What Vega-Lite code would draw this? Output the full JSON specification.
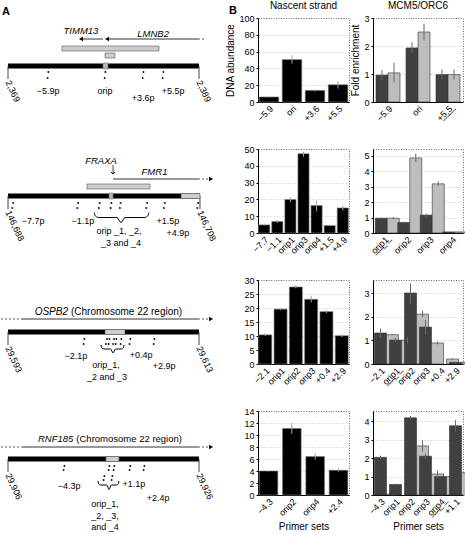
{
  "$schema": "https://vega.github.io/schema/vega-lite/v6.json",
  "padding": {"left": 0, "top": 0, "right": 0, "bottom": 0},
  "columns": 3,
  "spacing": {"row": 47, "column": 24},
  "bounds": "flush",
  "align": "each",
  "datasets": {
    "d1": [
      {"kind": "bar", "x": 0, "x2": 20, "y": 0},
      {"kind": "tick", "x": 0, "y": 0, "y2": -13},
      {"kind": "tick", "x": 20, "y": 0, "y2": -13},
      {"kind": "line", "x": 7.64, "x2": 9.95, "y": 27},
      {"kind": "line", "x": 10.37, "x2": 19.9, "y": 27},
      {"kind": "dash", "x": 19.9, "x2": 20.73, "y": 27},
      {"kind": "head", "x": 7.64, "y": 27, "dir": "left"},
      {"kind": "head", "x": 10.37, "y": 27, "dir": "left"},
      {"kind": "gene", "x": 7.64, "y": 35, "text": "TIMM13"},
      {"kind": "gene", "x": 15.2, "y": 32, "text": "LMNB2"},
      {"kind": "box", "x": 5.65, "x2": 15.81, "y": 20, "y2": 15},
      {"kind": "box", "x": 10.16, "x2": 11.2, "y": 13, "y2": 8},
      {"kind": "square", "x": 9.95, "x2": 10.47, "y": 3, "y2": -3},
      {"kind": "primer", "x": 4.19, "y": -6, "dir": "left"},
      {"kind": "primer", "x": 4.19, "y": -12, "dir": "right"},
      {"kind": "primer", "x": 10.16, "y": -6, "dir": "left"},
      {"kind": "primer", "x": 10.16, "y": -12, "dir": "right"},
      {"kind": "primer", "x": 14.14, "y": -6, "dir": "left"},
      {"kind": "primer", "x": 14.14, "y": -12, "dir": "right"},
      {"kind": "primer", "x": 16.23, "y": -6, "dir": "left"},
      {"kind": "primer", "x": 16.23, "y": -12, "dir": "right"},
      {"kind": "label", "x": 4.19, "y": -25, "text": "−5.9p"},
      {"kind": "label", "x": 10.16, "y": -25, "text": "orip"},
      {"kind": "label", "x": 14.14, "y": -32, "text": "+3.6p"},
      {"kind": "label", "x": 17.28, "y": -25, "text": "+5.5p"},
      {"kind": "end", "x": 0, "y": -15, "text": "2,369"},
      {"kind": "end", "x": 20, "y": -15, "text": "2,389"},
      {"kind": "panel", "x": -0.63, "y": 60, "text": "A"},
      {"kind": "panel", "x": 23.14, "y": 61, "text": "B"}
    ],
    "d2": [
      {"kind": "bar", "x": 0, "x2": 20.1, "y": 0},
      {"kind": "tick", "x": 0, "y": 0, "y2": -13},
      {"kind": "tick", "x": 20.1, "y": 0, "y2": -13},
      {"kind": "box", "x": 8.27, "x2": 14.87, "y": 12, "y2": 7},
      {"kind": "box", "x": 18.12, "x2": 20.1, "y": 2.5, "y2": -2.5},
      {"kind": "square", "x": 10.58, "x2": 11.0, "y": 3, "y2": -3},
      {"kind": "gene", "x": 9.74, "y": 35, "text": "FRAXA"},
      {"kind": "tick", "x": 11.0, "y": 31, "y2": 22},
      {"kind": "vhead", "x": 11.0, "y": 22},
      {"kind": "line", "x": 11.0, "x2": 19.9, "y": 17},
      {"kind": "dash", "x": 19.9, "x2": 21.05, "y": 17},
      {"kind": "head", "x": 21.26, "y": 17, "dir": "right"},
      {"kind": "gene", "x": 15.34, "y": 24, "text": "FMR1"},
      {"kind": "primer", "x": 0.49, "y": -7, "dir": "left"},
      {"kind": "primer", "x": 0.49, "y": -12, "dir": "right"},
      {"kind": "primer", "x": 7.3, "y": -7, "dir": "left"},
      {"kind": "primer", "x": 7.3, "y": -12, "dir": "right"},
      {"kind": "primer", "x": 9.56, "y": -7, "dir": "left"},
      {"kind": "primer", "x": 9.56, "y": -12, "dir": "right"},
      {"kind": "primer", "x": 10.79, "y": -7, "dir": "left"},
      {"kind": "primer", "x": 10.79, "y": -12, "dir": "right"},
      {"kind": "primer", "x": 11.76, "y": -7, "dir": "left"},
      {"kind": "primer", "x": 11.76, "y": -12, "dir": "right"},
      {"kind": "primer", "x": 14.52, "y": -7, "dir": "left"},
      {"kind": "primer", "x": 14.52, "y": -12, "dir": "right"},
      {"kind": "primer", "x": 16.37, "y": -7, "dir": "left"},
      {"kind": "primer", "x": 16.37, "y": -12, "dir": "right"},
      {"kind": "primer", "x": 19.86, "y": -7, "dir": "left"},
      {"kind": "primer", "x": 19.86, "y": -12, "dir": "right"},
      {"kind": "label", "x": 2.62, "y": -25, "text": "−7.7p"},
      {"kind": "label", "x": 7.85, "y": -25, "text": "−1.1p"},
      {"kind": "label", "x": 16.75, "y": -25, "text": "+1.5p"},
      {"kind": "label", "x": 17.8, "y": -37, "text": "+4.9p"},
      {"kind": "label", "x": 11.62, "y": -35, "text": "orip _1, _2,"},
      {"kind": "label", "x": 11.83, "y": -47, "text": "_3 and _4"},
      {"kind": "brace", "x": 9.01, "y": -16.5},
      {"kind": "brace", "x": 9.15, "y": -20},
      {"kind": "brace", "x": 9.5, "y": -21.5},
      {"kind": "brace", "x": 11.4, "y": -21.5},
      {"kind": "brace", "x": 11.83, "y": -26.5},
      {"kind": "brace", "x": 12.26, "y": -21.5},
      {"kind": "brace", "x": 14.27, "y": -21.5},
      {"kind": "brace", "x": 14.62, "y": -20},
      {"kind": "brace", "x": 14.76, "y": -16.5},
      {"kind": "end", "x": 0, "y": -15, "text": "146,688"},
      {"kind": "end", "x": 20.1, "y": -15, "text": "146,708"}
    ],
    "d3": [
      {"kind": "dash", "x": -0.73, "x2": 1.36, "y": 13},
      {"kind": "line", "x": 1.36, "x2": 19.9, "y": 13},
      {"kind": "dash", "x": 19.9, "x2": 21.05, "y": 13},
      {"kind": "head", "x": 21.26, "y": 13, "dir": "right"},
      {"kind": "geneR", "x": 6.44, "y": 20, "text": "OSPB2"},
      {"kind": "note", "x": 6.44, "y": 20, "text": "(Chromosome 22 region)"},
      {"kind": "bar", "x": 0, "x2": 20, "y": 0},
      {"kind": "tick", "x": 0, "y": 0, "y2": -13},
      {"kind": "tick", "x": 20, "y": 0, "y2": -13},
      {"kind": "box", "x": 10.16, "x2": 12.25, "y": 2.5, "y2": -2.5},
      {"kind": "primer", "x": 7.96, "y": -7, "dir": "left"},
      {"kind": "primer", "x": 7.96, "y": -12, "dir": "right"},
      {"kind": "primer", "x": 10.31, "y": -7, "dir": "left"},
      {"kind": "primer", "x": 10.31, "y": -12, "dir": "right"},
      {"kind": "primer", "x": 10.58, "y": -7, "dir": "left"},
      {"kind": "primer", "x": 10.58, "y": -12, "dir": "right"},
      {"kind": "primer", "x": 11.05, "y": -7, "dir": "left"},
      {"kind": "primer", "x": 11.05, "y": -12, "dir": "right"},
      {"kind": "primer", "x": 11.31, "y": -7, "dir": "left"},
      {"kind": "primer", "x": 11.31, "y": -12, "dir": "right"},
      {"kind": "primer", "x": 11.83, "y": -7, "dir": "left"},
      {"kind": "primer", "x": 11.83, "y": -12, "dir": "right"},
      {"kind": "primer", "x": 12.77, "y": -7, "dir": "left"},
      {"kind": "primer", "x": 12.77, "y": -12, "dir": "right"},
      {"kind": "primer", "x": 15.29, "y": -7, "dir": "left"},
      {"kind": "primer", "x": 15.29, "y": -12, "dir": "right"},
      {"kind": "label", "x": 7.12, "y": -24, "text": "−2.1p"},
      {"kind": "label", "x": 13.93, "y": -23, "text": "+0.4p"},
      {"kind": "label", "x": 10.26, "y": -33, "text": "orip_1,"},
      {"kind": "label", "x": 10.37, "y": -45, "text": "_2 and _3"},
      {"kind": "label", "x": 16.34, "y": -34, "text": "+2.9p"},
      {"kind": "brace", "x": 9.74, "y": -13},
      {"kind": "brace", "x": 9.82, "y": -16},
      {"kind": "brace", "x": 10.05, "y": -17},
      {"kind": "brace", "x": 10.75, "y": -17},
      {"kind": "brace", "x": 11.0, "y": -21},
      {"kind": "brace", "x": 11.25, "y": -17},
      {"kind": "brace", "x": 11.9, "y": -17},
      {"kind": "brace", "x": 12.07, "y": -16},
      {"kind": "brace", "x": 12.15, "y": -13},
      {"kind": "end", "x": 0, "y": -15, "text": "29,593"},
      {"kind": "end", "x": 20, "y": -15, "text": "29,613"}
    ],
    "d4": [
      {"kind": "dash", "x": -0.73, "x2": 1.57, "y": 12},
      {"kind": "line", "x": 1.57, "x2": 19.9, "y": 12},
      {"kind": "dash", "x": 19.9, "x2": 21.05, "y": 12},
      {"kind": "head", "x": 21.26, "y": 12, "dir": "right"},
      {"kind": "geneR", "x": 7.0, "y": 20, "text": "RNF185"},
      {"kind": "note", "x": 7.0, "y": 20, "text": "(Chromosome 22 region)"},
      {"kind": "bar", "x": 0, "x2": 20, "y": 0},
      {"kind": "tick", "x": 0, "y": 0, "y2": -13},
      {"kind": "tick", "x": 20, "y": 0, "y2": -13},
      {"kind": "box", "x": 10.26, "x2": 11.62, "y": 2.5, "y2": -2.5},
      {"kind": "primer", "x": 5.86, "y": -7, "dir": "left"},
      {"kind": "primer", "x": 5.86, "y": -11, "dir": "right"},
      {"kind": "primer", "x": 10.58, "y": -7, "dir": "left"},
      {"kind": "primer", "x": 10.58, "y": -11, "dir": "right"},
      {"kind": "primer", "x": 11.1, "y": -7, "dir": "left"},
      {"kind": "primer", "x": 11.1, "y": -11, "dir": "right"},
      {"kind": "primer", "x": 12.77, "y": -7, "dir": "left"},
      {"kind": "primer", "x": 12.77, "y": -11, "dir": "right"},
      {"kind": "primer", "x": 14.24, "y": -7, "dir": "left"},
      {"kind": "primer", "x": 14.24, "y": -11, "dir": "right"},
      {"kind": "primer", "x": 10.05, "y": -17, "dir": "left"},
      {"kind": "primer", "x": 10.05, "y": -21, "dir": "right"},
      {"kind": "primer", "x": 10.89, "y": -17, "dir": "left"},
      {"kind": "primer", "x": 10.89, "y": -21, "dir": "right"},
      {"kind": "label", "x": 6.4, "y": -27, "text": "−4.3p"},
      {"kind": "label", "x": 13.19, "y": -25, "text": "+1.1p"},
      {"kind": "label", "x": 15.71, "y": -39, "text": "+2.4p"},
      {"kind": "label", "x": 10.16, "y": -45, "text": "orip_1,"},
      {"kind": "label", "x": 10.16, "y": -57, "text": "_2, _3,"},
      {"kind": "label", "x": 10.16, "y": -68, "text": "and _4"},
      {"kind": "brace", "x": 9.42, "y": -22},
      {"kind": "brace", "x": 9.5, "y": -25},
      {"kind": "brace", "x": 9.68, "y": -26},
      {"kind": "brace", "x": 10.35, "y": -26},
      {"kind": "brace", "x": 10.58, "y": -30.5},
      {"kind": "brace", "x": 10.81, "y": -26},
      {"kind": "brace", "x": 11.36, "y": -26},
      {"kind": "brace", "x": 11.54, "y": -25},
      {"kind": "brace", "x": 11.62, "y": -22},
      {"kind": "end", "x": 0, "y": -15, "text": "29,906"},
      {"kind": "end", "x": 20, "y": -15, "text": "29,926"}
    ],
    "n1": [
      {"primer": "−5.9", "value": 6, "lo": 5.3, "hi": 6.8},
      {"primer": "ori", "value": 50.5, "lo": 45.5, "hi": 55.5},
      {"primer": "+3.6", "value": 13.8, "lo": 12.6, "hi": 15},
      {"primer": "+5.5", "value": 20.5, "lo": 16, "hi": 24.5}
    ],
    "n2": [
      {"primer": "−7.7", "value": 4.8, "lo": 4.4, "hi": 5.6},
      {"primer": "−1.1", "value": 6.8, "lo": 6, "hi": 7.6},
      {"primer": "orip1", "value": 19.9, "lo": 18.3, "hi": 21.3},
      {"primer": "orip3", "value": 47.2, "lo": 45.4, "hi": 48.4},
      {"primer": "orip4", "value": 16.3, "lo": 12.9, "hi": 19.3},
      {"primer": "+1.5", "value": 4.4, "lo": 4, "hi": 5},
      {"primer": "+4.9", "value": 14.9, "lo": 13.3, "hi": 16.3}
    ],
    "n3": [
      {"primer": "−2.1", "value": 10.4, "lo": 10, "hi": 10.9},
      {"primer": "orip1", "value": 19.6, "lo": 19.2, "hi": 20},
      {"primer": "orip2", "value": 27.5, "lo": 27, "hi": 28.2},
      {"primer": "orip3", "value": 23.1, "lo": 22, "hi": 24.4},
      {"primer": "+0.4", "value": 18.7, "lo": 18.2, "hi": 19.3},
      {"primer": "+2.9", "value": 10.1, "lo": 9.6, "hi": 10.6}
    ],
    "n4": [
      {"primer": "−4.3", "value": 4, "lo": 3.9, "hi": 4.1},
      {"primer": "orip2", "value": 11.1, "lo": 10.2, "hi": 12},
      {"primer": "orip4", "value": 6.4, "lo": 5.9, "hi": 6.9},
      {"primer": "+2.4", "value": 4.13, "lo": 3.9, "hi": 4.4}
    ],
    "m1": [
      {"primer": "−5.9", "series": "MCM5", "value": 0.96, "lo": 0.78, "hi": 1.14},
      {"primer": "−5.9", "series": "ORC6", "value": 1.04, "lo": 0.7, "hi": 1.4},
      {"primer": "ori", "series": "MCM5", "value": 1.93, "lo": 1.74, "hi": 2.13},
      {"primer": "ori", "series": "ORC6", "value": 2.5, "lo": 2.2, "hi": 2.8},
      {"primer": "+5.5", "series": "MCM5", "value": 0.98, "lo": 0.8, "hi": 1.16},
      {"primer": "+5.5", "series": "ORC6", "value": 0.98, "lo": 0.8, "hi": 1.16}
    ],
    "m2": [
      {"primer": "orip1", "series": "MCM5", "value": 0.96, "lo": 0.92, "hi": 1.0},
      {"primer": "orip1", "series": "ORC6", "value": 0.96, "lo": 0.9, "hi": 1.03},
      {"primer": "orip2", "series": "MCM5", "value": 0.68, "lo": 0.62, "hi": 0.74},
      {"primer": "orip2", "series": "ORC6", "value": 4.87, "lo": 4.6, "hi": 5.15},
      {"primer": "orip3", "series": "MCM5", "value": 1.16, "lo": 1.05, "hi": 1.25},
      {"primer": "orip3", "series": "ORC6", "value": 3.19, "lo": 3.05, "hi": 3.35},
      {"primer": "orip4", "series": "MCM5", "value": 0.07, "lo": 0.06, "hi": 0.08},
      {"primer": "orip4", "series": "ORC6", "value": 0.07, "lo": 0.06, "hi": 0.08}
    ],
    "m3": [
      {"primer": "−2.1", "series": "MCM5", "value": 1.31, "lo": 1.12, "hi": 1.5},
      {"primer": "−2.1", "series": "ORC6", "value": 1.24, "lo": 1.22, "hi": 1.26},
      {"primer": "orip1", "series": "MCM5", "value": 1.01, "lo": 0.93, "hi": 1.1},
      {"primer": "orip1", "series": "ORC6", "value": 1.01, "lo": 0.88, "hi": 1.12},
      {"primer": "orip2", "series": "MCM5", "value": 3.0, "lo": 2.55, "hi": 3.4},
      {"primer": "orip2", "series": "ORC6", "value": 2.11, "lo": 1.97, "hi": 2.25},
      {"primer": "orip3", "series": "MCM5", "value": 1.56, "lo": 1.25, "hi": 1.86},
      {"primer": "orip3", "series": "ORC6", "value": 0.89, "lo": 0.83, "hi": 0.95},
      {"primer": "+0.4", "series": "ORC6", "value": 0.21, "lo": 0.18, "hi": 0.24},
      {"primer": "+2.9", "series": "MCM5", "value": 0.07, "lo": 0.06, "hi": 0.08},
      {"primer": "+2.9", "series": "ORC6", "value": 0.07, "lo": 0.06, "hi": 0.08}
    ],
    "m4": [
      {"primer": "−4.3", "series": "MCM5", "value": 2.04, "lo": 1.95, "hi": 2.13},
      {"primer": "−4.3", "series": "ORC6", "value": 0.05, "lo": 0.04, "hi": 0.06},
      {"primer": "orip1", "series": "MCM5", "value": 0.57, "lo": 0.53, "hi": 0.62},
      {"primer": "orip2", "series": "MCM5", "value": 4.18, "lo": 4.1, "hi": 4.27},
      {"primer": "orip2", "series": "ORC6", "value": 2.66, "lo": 2.35, "hi": 2.98},
      {"primer": "orip3", "series": "MCM5", "value": 2.1, "lo": 1.95, "hi": 2.25},
      {"primer": "orip3", "series": "ORC6", "value": 1.14, "lo": 0.95, "hi": 1.33},
      {"primer": "orip4", "series": "MCM5", "value": 1.0, "lo": 0.97, "hi": 1.03},
      {"primer": "orip4", "series": "ORC6", "value": 1.0, "lo": 0.98, "hi": 1.02},
      {"primer": "+1.1", "series": "MCM5", "value": 3.75, "lo": 3.45, "hi": 4.05},
      {"primer": "+1.1", "series": "ORC6", "value": 1.21, "lo": 1.0, "hi": 1.42}
    ]
  },
  "concat": [
    {
      "width": 233, "height": 84, "view": {"stroke": null},
      "data": {"name": "d1"},
      "encoding": {
        "x": {"field": "x", "type": "quantitative", "scale": {"domain": [-0.733, 23.665], "nice": false, "zero": false}, "axis": null},
        "y": {"field": "y", "type": "quantitative", "scale": {"domain": [-36, 48], "nice": false, "zero": false}, "axis": null}
      },
      "layer": [
        {"transform": [{"filter": {"field": "kind", "equal": "bar"}}], "mark": {"type": "rule", "color": "#000", "strokeWidth": 5}, "encoding": {"x2": {"field": "x2"}}},
        {"transform": [{"filter": {"field": "kind", "equal": "line"}}], "mark": {"type": "rule", "color": "#333", "strokeWidth": 1}, "encoding": {"x2": {"field": "x2"}}},
        {"transform": [{"filter": {"field": "kind", "equal": "dash"}}], "mark": {"type": "rule", "color": "#555", "strokeWidth": 1, "strokeDash": [2, 2]}, "encoding": {"x2": {"field": "x2"}}},
        {"transform": [{"filter": {"field": "kind", "equal": "tick"}}], "mark": {"type": "rule", "color": "#444", "strokeWidth": 1}, "encoding": {"y2": {"field": "y2"}}},
        {"transform": [{"filter": {"field": "kind", "equal": "box"}}], "mark": {"type": "rect", "fill": "#cdcdcd", "stroke": "#555", "strokeWidth": 0.6}, "encoding": {"x2": {"field": "x2"}, "y2": {"field": "y2"}}},
        {"transform": [{"filter": {"field": "kind", "equal": "square"}}], "mark": {"type": "rect", "fill": "#b5b5b5", "stroke": "#777", "strokeWidth": 0.6}, "encoding": {"x2": {"field": "x2"}, "y2": {"field": "y2"}}},
        {"transform": [{"filter": {"field": "kind", "equal": "head"}}], "mark": {"type": "point", "filled": true, "color": "#000", "size": 22, "opacity": 1}, "encoding": {"shape": {"field": "dir", "type": "nominal", "scale": {"domain": ["left", "right"], "range": ["triangle-left", "triangle-right"]}, "legend": null}}},
        {"transform": [{"filter": {"field": "kind", "equal": "primer"}}], "mark": {"type": "point", "filled": true, "color": "#000", "size": 7, "opacity": 1}, "encoding": {"shape": {"field": "dir", "type": "nominal", "scale": {"domain": ["left", "right"], "range": ["triangle-left", "triangle-right"]}, "legend": null}}},
        {"transform": [{"filter": {"field": "kind", "equal": "label"}}], "mark": {"type": "text", "fontSize": 9, "align": "center", "baseline": "middle"}, "encoding": {"text": {"field": "text"}}},
        {"transform": [{"filter": {"field": "kind", "equal": "gene"}}], "mark": {"type": "text", "fontSize": 9.5, "fontStyle": "italic", "align": "center", "baseline": "middle"}, "encoding": {"text": {"field": "text"}}},
        {"transform": [{"filter": {"field": "kind", "equal": "end"}}], "mark": {"type": "text", "fontSize": 9, "align": "left", "baseline": "middle", "angle": 65}, "encoding": {"text": {"field": "text"}}},
        {"transform": [{"filter": {"field": "kind", "equal": "panel"}}], "mark": {"type": "text", "fontSize": 11, "fontWeight": "bold", "align": "left", "baseline": "top"}, "encoding": {"text": {"field": "text"}}}
      ]
    },
    {
      "width": 91, "height": 84,
      "data": {"name": "n1"},
      "title": "Nascent strand",
      "encoding": {"x": {"field": "primer", "type": "nominal", "sort": null, "scale": {"paddingInner": 0.15, "paddingOuter": 0.05}, "axis": {"title": null}}},
      "layer": [
        {"mark": {"type": "bar", "color": "#000", "stroke": "#808080", "strokeWidth": 0.6}, "encoding": {"y": {"field": "value", "type": "quantitative", "scale": {"domain": [0, 100], "nice": false}, "axis": {"values": [0, 20, 40, 60, 80, 100], "title": "DNA abundance", "labelOverlap": false, "labelFlush": false}}}},
        {"mark": {"type": "rule", "color": "#a0a0a0", "strokeWidth": 1}, "encoding": {"y": {"field": "lo", "type": "quantitative", "scale": {"domain": [0, 100], "nice": false}, "axis": {"values": [0, 20, 40, 60, 80, 100], "title": "DNA abundance", "labelOverlap": false, "labelFlush": false}}, "y2": {"field": "hi"}}}
      ]
    },
    {
      "width": 90, "height": 84,
      "data": {"name": "m1"},
      "title": "MCM5/ORC6",
      "encoding": {
        "x": {"field": "primer", "type": "nominal", "sort": null, "scale": {"paddingInner": 0.2, "paddingOuter": 0.1}, "axis": {"title": null, "labelExpr": "datum.value == '+5.5' ? '+\u03325\u0332.\u03325\u0332' : datum.value"}},
        "xOffset": {"field": "series", "type": "nominal", "scale": {"domain": ["MCM5", "ORC6"]}}
      },
      "layer": [
        {"mark": {"type": "bar", "stroke": "#333", "strokeWidth": 0.6}, "encoding": {"y": {"field": "value", "type": "quantitative", "scale": {"domain": [0, 3], "nice": false}, "axis": {"values": [0, 1, 2, 3], "title": "Fold enrichment", "labelOverlap": false, "labelFlush": false}}, "color": {"field": "series", "type": "nominal", "scale": {"domain": ["MCM5", "ORC6"], "range": ["#404040", "#bdbdbd"]}, "legend": null}}},
        {"mark": {"type": "rule", "color": "#6a6a6a", "strokeWidth": 1}, "encoding": {"y": {"field": "lo", "type": "quantitative", "scale": {"domain": [0, 3], "nice": false}, "axis": {"values": [0, 1, 2, 3], "title": "Fold enrichment", "labelOverlap": false, "labelFlush": false}}, "y2": {"field": "hi"}}}
      ]
    },
    {
      "width": 233, "height": 84, "view": {"stroke": null},
      "data": {"name": "d2"},
      "encoding": {
        "x": {"field": "x", "type": "quantitative", "scale": {"domain": [-0.733, 23.665], "nice": false, "zero": false}, "axis": null},
        "y": {"field": "y", "type": "quantitative", "scale": {"domain": [-37, 47], "nice": false, "zero": false}, "axis": null}
      },
      "layer": [
        {"transform": [{"filter": {"field": "kind", "equal": "bar"}}], "mark": {"type": "rule", "color": "#000", "strokeWidth": 5}, "encoding": {"x2": {"field": "x2"}}},
        {"transform": [{"filter": {"field": "kind", "equal": "line"}}], "mark": {"type": "rule", "color": "#333", "strokeWidth": 1}, "encoding": {"x2": {"field": "x2"}}},
        {"transform": [{"filter": {"field": "kind", "equal": "dash"}}], "mark": {"type": "rule", "color": "#555", "strokeWidth": 1, "strokeDash": [2, 2]}, "encoding": {"x2": {"field": "x2"}}},
        {"transform": [{"filter": {"field": "kind", "equal": "tick"}}], "mark": {"type": "rule", "color": "#444", "strokeWidth": 1}, "encoding": {"y2": {"field": "y2"}}},
        {"transform": [{"filter": {"field": "kind", "equal": "box"}}], "mark": {"type": "rect", "fill": "#cdcdcd", "stroke": "#555", "strokeWidth": 0.6}, "encoding": {"x2": {"field": "x2"}, "y2": {"field": "y2"}}},
        {"transform": [{"filter": {"field": "kind", "equal": "square"}}], "mark": {"type": "rect", "fill": "#b5b5b5", "stroke": "#777", "strokeWidth": 0.6}, "encoding": {"x2": {"field": "x2"}, "y2": {"field": "y2"}}},
        {"transform": [{"filter": {"field": "kind", "equal": "head"}}], "mark": {"type": "point", "filled": true, "color": "#000", "size": 22, "opacity": 1}, "encoding": {"shape": {"field": "dir", "type": "nominal", "scale": {"domain": ["left", "right"], "range": ["triangle-left", "triangle-right"]}, "legend": null}}},
        {"transform": [{"filter": {"field": "kind", "equal": "primer"}}], "mark": {"type": "point", "filled": true, "color": "#000", "size": 7, "opacity": 1}, "encoding": {"shape": {"field": "dir", "type": "nominal", "scale": {"domain": ["left", "right"], "range": ["triangle-left", "triangle-right"]}, "legend": null}}},
        {"transform": [{"filter": {"field": "kind", "equal": "vhead"}}], "mark": {"type": "point", "filled": false, "shape": "M-1,-1L0,0L1,-1", "color": "#000", "size": 16, "strokeWidth": 1, "opacity": 1}, "encoding": {}},
        {"transform": [{"filter": {"field": "kind", "equal": "brace"}}], "mark": {"type": "line", "color": "#000", "strokeWidth": 1, "interpolate": "monotone"}, "encoding": {}},
        {"transform": [{"filter": {"field": "kind", "equal": "label"}}], "mark": {"type": "text", "fontSize": 9, "align": "center", "baseline": "middle"}, "encoding": {"text": {"field": "text"}}},
        {"transform": [{"filter": {"field": "kind", "equal": "gene"}}], "mark": {"type": "text", "fontSize": 9.5, "fontStyle": "italic", "align": "center", "baseline": "middle"}, "encoding": {"text": {"field": "text"}}},
        {"transform": [{"filter": {"field": "kind", "equal": "end"}}], "mark": {"type": "text", "fontSize": 9, "align": "left", "baseline": "middle", "angle": 65}, "encoding": {"text": {"field": "text"}}}
      ]
    },
    {
      "width": 91, "height": 84,
      "data": {"name": "n2"},
      "encoding": {"x": {"field": "primer", "type": "nominal", "sort": null, "scale": {"paddingInner": 0.15, "paddingOuter": 0.05}, "axis": {"title": null}}},
      "layer": [
        {"mark": {"type": "bar", "color": "#000", "stroke": "#808080", "strokeWidth": 0.6}, "encoding": {"y": {"field": "value", "type": "quantitative", "scale": {"domain": [0, 50], "nice": false}, "axis": {"values": [0, 10, 20, 30, 40, 50], "title": null, "labelOverlap": false, "labelFlush": false}}}},
        {"mark": {"type": "rule", "color": "#a0a0a0", "strokeWidth": 1}, "encoding": {"y": {"field": "lo", "type": "quantitative", "scale": {"domain": [0, 50], "nice": false}, "axis": {"values": [0, 10, 20, 30, 40, 50], "title": null, "labelOverlap": false, "labelFlush": false}}, "y2": {"field": "hi"}}}
      ]
    },
    {
      "width": 90, "height": 84,
      "data": {"name": "m2"},
      "encoding": {
        "x": {"field": "primer", "type": "nominal", "sort": null, "scale": {"paddingInner": 0.2, "paddingOuter": 0.1}, "axis": {"title": null, "labelExpr": "datum.value == 'orip1' ? 'o\u0332r\u0332i\u0332p\u03321\u0332' : datum.value"}},
        "xOffset": {"field": "series", "type": "nominal", "scale": {"domain": ["MCM5", "ORC6"]}}
      },
      "layer": [
        {"mark": {"type": "bar", "stroke": "#333", "strokeWidth": 0.6}, "encoding": {"y": {"field": "value", "type": "quantitative", "scale": {"domain": [0, 5.45], "nice": false}, "axis": {"values": [0, 1, 2, 3, 4, 5], "title": null, "labelOverlap": false, "labelFlush": false}}, "color": {"field": "series", "type": "nominal", "scale": {"domain": ["MCM5", "ORC6"], "range": ["#404040", "#bdbdbd"]}, "legend": null}}},
        {"mark": {"type": "rule", "color": "#6a6a6a", "strokeWidth": 1}, "encoding": {"y": {"field": "lo", "type": "quantitative", "scale": {"domain": [0, 5.45], "nice": false}, "axis": {"values": [0, 1, 2, 3, 4, 5], "title": null, "labelOverlap": false, "labelFlush": false}}, "y2": {"field": "hi"}}}
      ]
    },
    {
      "width": 233, "height": 84, "view": {"stroke": null},
      "data": {"name": "d3"},
      "encoding": {
        "x": {"field": "x", "type": "quantitative", "scale": {"domain": [-0.733, 23.665], "nice": false, "zero": false}, "axis": null},
        "y": {"field": "y", "type": "quantitative", "scale": {"domain": [-32, 52], "nice": false, "zero": false}, "axis": null}
      },
      "layer": [
        {"transform": [{"filter": {"field": "kind", "equal": "bar"}}], "mark": {"type": "rule", "color": "#000", "strokeWidth": 5}, "encoding": {"x2": {"field": "x2"}}},
        {"transform": [{"filter": {"field": "kind", "equal": "line"}}], "mark": {"type": "rule", "color": "#333", "strokeWidth": 1}, "encoding": {"x2": {"field": "x2"}}},
        {"transform": [{"filter": {"field": "kind", "equal": "dash"}}], "mark": {"type": "rule", "color": "#555", "strokeWidth": 1, "strokeDash": [2, 2]}, "encoding": {"x2": {"field": "x2"}}},
        {"transform": [{"filter": {"field": "kind", "equal": "tick"}}], "mark": {"type": "rule", "color": "#444", "strokeWidth": 1}, "encoding": {"y2": {"field": "y2"}}},
        {"transform": [{"filter": {"field": "kind", "equal": "box"}}], "mark": {"type": "rect", "fill": "#cdcdcd", "stroke": "#555", "strokeWidth": 0.6}, "encoding": {"x2": {"field": "x2"}, "y2": {"field": "y2"}}},
        {"transform": [{"filter": {"field": "kind", "equal": "head"}}], "mark": {"type": "point", "filled": true, "color": "#000", "size": 22, "opacity": 1}, "encoding": {"shape": {"field": "dir", "type": "nominal", "scale": {"domain": ["left", "right"], "range": ["triangle-left", "triangle-right"]}, "legend": null}}},
        {"transform": [{"filter": {"field": "kind", "equal": "primer"}}], "mark": {"type": "point", "filled": true, "color": "#000", "size": 7, "opacity": 1}, "encoding": {"shape": {"field": "dir", "type": "nominal", "scale": {"domain": ["left", "right"], "range": ["triangle-left", "triangle-right"]}, "legend": null}}},
        {"transform": [{"filter": {"field": "kind", "equal": "brace"}}], "mark": {"type": "line", "color": "#000", "strokeWidth": 1, "interpolate": "monotone"}, "encoding": {}},
        {"transform": [{"filter": {"field": "kind", "equal": "label"}}], "mark": {"type": "text", "fontSize": 9, "align": "center", "baseline": "middle"}, "encoding": {"text": {"field": "text"}}},
        {"transform": [{"filter": {"field": "kind", "equal": "geneR"}}], "mark": {"type": "text", "fontSize": 10, "fontStyle": "italic", "align": "right", "baseline": "middle", "dx": -1.5}, "encoding": {"text": {"field": "text"}}},
        {"transform": [{"filter": {"field": "kind", "equal": "note"}}], "mark": {"type": "text", "fontSize": 10, "align": "left", "baseline": "middle", "dx": 1.5}, "encoding": {"text": {"field": "text"}}},
        {"transform": [{"filter": {"field": "kind", "equal": "end"}}], "mark": {"type": "text", "fontSize": 9, "align": "left", "baseline": "middle", "angle": 65}, "encoding": {"text": {"field": "text"}}}
      ]
    },
    {
      "width": 91, "height": 84,
      "data": {"name": "n3"},
      "encoding": {"x": {"field": "primer", "type": "nominal", "sort": null, "scale": {"paddingInner": 0.15, "paddingOuter": 0.05}, "axis": {"title": null}}},
      "layer": [
        {"mark": {"type": "bar", "color": "#000", "stroke": "#808080", "strokeWidth": 0.6}, "encoding": {"y": {"field": "value", "type": "quantitative", "scale": {"domain": [0, 30], "nice": false}, "axis": {"values": [0, 5, 10, 15, 20, 25, 30], "title": null, "labelOverlap": false, "labelFlush": false}}}},
        {"mark": {"type": "rule", "color": "#a0a0a0", "strokeWidth": 1}, "encoding": {"y": {"field": "lo", "type": "quantitative", "scale": {"domain": [0, 30], "nice": false}, "axis": {"values": [0, 5, 10, 15, 20, 25, 30], "title": null, "labelOverlap": false, "labelFlush": false}}, "y2": {"field": "hi"}}}
      ]
    },
    {
      "width": 90, "height": 84,
      "data": {"name": "m3"},
      "encoding": {
        "x": {"field": "primer", "type": "nominal", "sort": null, "scale": {"paddingInner": 0.2, "paddingOuter": 0.1}, "axis": {"title": null, "labelExpr": "datum.value == 'orip1' ? 'o\u0332r\u0332i\u0332p\u03321\u0332' : datum.value"}},
        "xOffset": {"field": "series", "type": "nominal", "scale": {"domain": ["MCM5", "ORC6"]}}
      },
      "layer": [
        {"mark": {"type": "bar", "stroke": "#333", "strokeWidth": 0.6}, "encoding": {"y": {"field": "value", "type": "quantitative", "scale": {"domain": [0, 3.55], "nice": false}, "axis": {"values": [0, 1, 2, 3], "title": null, "labelOverlap": false, "labelFlush": false}}, "color": {"field": "series", "type": "nominal", "scale": {"domain": ["MCM5", "ORC6"], "range": ["#404040", "#bdbdbd"]}, "legend": null}}},
        {"mark": {"type": "rule", "color": "#6a6a6a", "strokeWidth": 1}, "encoding": {"y": {"field": "lo", "type": "quantitative", "scale": {"domain": [0, 3.55], "nice": false}, "axis": {"values": [0, 1, 2, 3], "title": null, "labelOverlap": false, "labelFlush": false}}, "y2": {"field": "hi"}}}
      ]
    },
    {
      "width": 233, "height": 84, "view": {"stroke": null},
      "data": {"name": "d4"},
      "encoding": {
        "x": {"field": "x", "type": "quantitative", "scale": {"domain": [-0.733, 23.665], "nice": false, "zero": false}, "axis": null},
        "y": {"field": "y", "type": "quantitative", "scale": {"domain": [-36, 48], "nice": false, "zero": false}, "axis": null}
      },
      "layer": [
        {"transform": [{"filter": {"field": "kind", "equal": "bar"}}], "mark": {"type": "rule", "color": "#000", "strokeWidth": 5}, "encoding": {"x2": {"field": "x2"}}},
        {"transform": [{"filter": {"field": "kind", "equal": "line"}}], "mark": {"type": "rule", "color": "#333", "strokeWidth": 1}, "encoding": {"x2": {"field": "x2"}}},
        {"transform": [{"filter": {"field": "kind", "equal": "dash"}}], "mark": {"type": "rule", "color": "#555", "strokeWidth": 1, "strokeDash": [2, 2]}, "encoding": {"x2": {"field": "x2"}}},
        {"transform": [{"filter": {"field": "kind", "equal": "tick"}}], "mark": {"type": "rule", "color": "#444", "strokeWidth": 1}, "encoding": {"y2": {"field": "y2"}}},
        {"transform": [{"filter": {"field": "kind", "equal": "box"}}], "mark": {"type": "rect", "fill": "#cdcdcd", "stroke": "#555", "strokeWidth": 0.6}, "encoding": {"x2": {"field": "x2"}, "y2": {"field": "y2"}}},
        {"transform": [{"filter": {"field": "kind", "equal": "head"}}], "mark": {"type": "point", "filled": true, "color": "#000", "size": 22, "opacity": 1}, "encoding": {"shape": {"field": "dir", "type": "nominal", "scale": {"domain": ["left", "right"], "range": ["triangle-left", "triangle-right"]}, "legend": null}}},
        {"transform": [{"filter": {"field": "kind", "equal": "primer"}}], "mark": {"type": "point", "filled": true, "color": "#000", "size": 7, "opacity": 1}, "encoding": {"shape": {"field": "dir", "type": "nominal", "scale": {"domain": ["left", "right"], "range": ["triangle-left", "triangle-right"]}, "legend": null}}},
        {"transform": [{"filter": {"field": "kind", "equal": "brace"}}], "mark": {"type": "line", "color": "#000", "strokeWidth": 1, "interpolate": "monotone"}, "encoding": {}},
        {"transform": [{"filter": {"field": "kind", "equal": "label"}}], "mark": {"type": "text", "fontSize": 9, "align": "center", "baseline": "middle"}, "encoding": {"text": {"field": "text"}}},
        {"transform": [{"filter": {"field": "kind", "equal": "geneR"}}], "mark": {"type": "text", "fontSize": 9.5, "fontStyle": "italic", "align": "right", "baseline": "middle", "dx": -1.5}, "encoding": {"text": {"field": "text"}}},
        {"transform": [{"filter": {"field": "kind", "equal": "note"}}], "mark": {"type": "text", "fontSize": 9.5, "align": "left", "baseline": "middle", "dx": 1.5}, "encoding": {"text": {"field": "text"}}},
        {"transform": [{"filter": {"field": "kind", "equal": "end"}}], "mark": {"type": "text", "fontSize": 9, "align": "left", "baseline": "middle", "angle": 65}, "encoding": {"text": {"field": "text"}}}
      ]
    },
    {
      "width": 91, "height": 84,
      "data": {"name": "n4"},
      "encoding": {"x": {"field": "primer", "type": "nominal", "sort": null, "scale": {"paddingInner": 0.2, "paddingOuter": 0.05}, "axis": {"title": "Primer sets"}}},
      "layer": [
        {"mark": {"type": "bar", "color": "#000", "stroke": "#808080", "strokeWidth": 0.6}, "encoding": {"y": {"field": "value", "type": "quantitative", "scale": {"domain": [0, 14], "nice": false}, "axis": {"values": [0, 2, 4, 6, 8, 10, 12, 14], "title": null, "labelOverlap": false, "labelFlush": false}}}},
        {"mark": {"type": "rule", "color": "#a0a0a0", "strokeWidth": 1}, "encoding": {"y": {"field": "lo", "type": "quantitative", "scale": {"domain": [0, 14], "nice": false}, "axis": {"values": [0, 2, 4, 6, 8, 10, 12, 14], "title": null, "labelOverlap": false, "labelFlush": false}}, "y2": {"field": "hi"}}}
      ]
    },
    {
      "width": 90, "height": 84,
      "data": {"name": "m4"},
      "encoding": {
        "x": {"field": "primer", "type": "nominal", "sort": null, "scale": {"paddingInner": 0.2, "paddingOuter": 0.1}, "axis": {"title": "Primer sets", "labelExpr": "datum.value == 'orip4' ? 'o\u0332r\u0332i\u0332p\u03324\u0332' : datum.value"}},
        "xOffset": {"field": "series", "type": "nominal", "scale": {"domain": ["MCM5", "ORC6"]}}
      },
      "layer": [
        {"mark": {"type": "bar", "stroke": "#333", "strokeWidth": 0.6}, "encoding": {"y": {"field": "value", "type": "quantitative", "scale": {"domain": [0, 4.55], "nice": false}, "axis": {"values": [0, 1, 2, 3, 4], "title": null, "labelOverlap": false, "labelFlush": false}}, "color": {"field": "series", "type": "nominal", "scale": {"domain": ["MCM5", "ORC6"], "range": ["#404040", "#bdbdbd"]}, "legend": null}}},
        {"mark": {"type": "rule", "color": "#6a6a6a", "strokeWidth": 1}, "encoding": {"y": {"field": "lo", "type": "quantitative", "scale": {"domain": [0, 4.55], "nice": false}, "axis": {"values": [0, 1, 2, 3, 4], "title": null, "labelOverlap": false, "labelFlush": false}}, "y2": {"field": "hi"}}}
      ]
    }
  ],
  "config": {
    "font": "Liberation Sans",
    "view": {"stroke": "#666", "strokeDash": [1, 1.5], "strokeWidth": 1},
    "axis": {"labelColor": "#000", "titleColor": "#000", "domainColor": "#000", "tickColor": "#000", "titleFontWeight": "normal", "labelFont": "Liberation Sans", "titleFont": "Liberation Sans"},
    "axisY": {"labelFontSize": 9, "tickSize": 2, "labelPadding": 2, "grid": true, "gridColor": "#b5b5b5", "gridDash": [1, 2], "gridWidth": 0.8, "titleFontSize": 10, "titlePadding": 3},
    "axisX": {"labelAngle": -45, "labelFontSize": 9, "ticks": false, "labelPadding": 2, "titleFontSize": 10, "titlePadding": 4, "labelOverlap": false, "grid": false},
    "title": {"fontSize": 10, "fontWeight": "normal", "offset": 3, "font": "Liberation Sans"}
  }
}
